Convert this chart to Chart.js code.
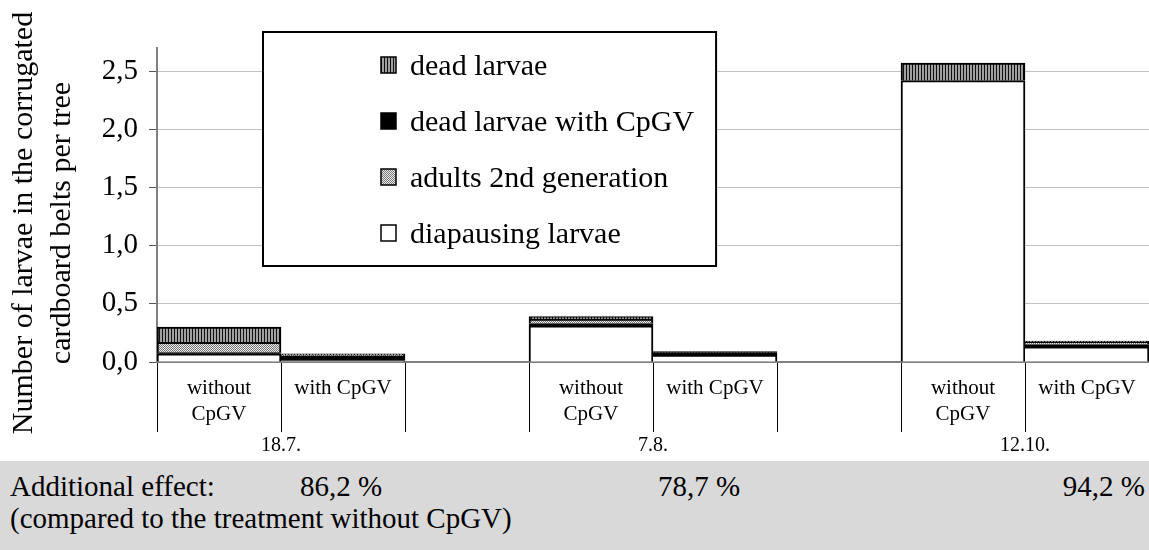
<!DOCTYPE html>
<html>
<head>
<meta charset="utf-8">
<script src="https://cdn.jsdelivr.net/npm/chart.js@4.4.1/dist/chart.umd.min.js"></script>
<style>
    html, body { margin: 0; padding: 0; background: #fff; }
    #wrap { position: relative; width: 1149px; height: 550px; overflow: hidden; font-family: "Liberation Serif", "DejaVu Serif", serif; }
    #chart { position: absolute; left: 0; top: 0; }
    #effect { position: absolute; left: 0; top: 461px; width: 1149px; height: 89px; background: #d9d9d9; color: #000; font-size: 29px; line-height: 33px; }
    #effect span { position: absolute; white-space: nowrap; }
</style>
</head>
<body>
<div id="wrap">
    <canvas id="chart" width="1149" height="460"></canvas>
    <div id="effect"></div>
</div>
<script>
// categories: without / with CpGV per date, empty slot between dates
var categories = [["without", "CpGV"], "with CpGV", "", ["without", "CpGV"], "with CpGV", "", ["without", "CpGV"], "with CpGV"];
var dateLabels = ["18.7.", "7.8.", "12.10."];
var dateStartIndex = [0, 3, 6];

// stacked from the bottom up
var diapausing   = [0.07, 0.01, null, 0.31, 0.06, null, 2.42, 0.13];
var deadWithCpGV = [0.01, 0.04, null, 0.02, 0.02, null, null, 0.02];
var adults2nd    = [0.09, 0.01, null, 0.04, null, null, null, 0.02];
var deadLarvae   = [0.13, 0.01, null, 0.02, 0.01, null, 0.15, 0.01];

var yTicks = [0, 0.5, 1, 1.5, 2, 2.5];
var yTitle = ["Number of larvae in the corrugated", "cardboard belts per tree"];

var effectLabel = "Additional effect:";
var effectNote = "(compared to the treatment without CpGV)";
var effectValues = ["86,2 %", "78,7 %", "94,2 %"];

var FONT = "'Liberation Serif', 'DejaVu Serif', serif";

function stripePattern() {
    var c = document.createElement("canvas");
    c.width = 3; c.height = 4;
    var g = c.getContext("2d");
    g.fillStyle = "#a0a0a0"; g.fillRect(0, 0, 3, 4);
    g.fillStyle = "#111"; g.fillRect(0, 0, 1, 4);
    return g.createPattern(c, "repeat");
}

function dotPattern() {
    var c = document.createElement("canvas");
    c.width = 2; c.height = 2;
    var g = c.getContext("2d");
    g.fillStyle = "#e8e8e8"; g.fillRect(0, 0, 2, 2);
    g.fillStyle = "#7a7a7a"; g.fillRect(0, 0, 1, 1); g.fillRect(1, 1, 1, 1);
    return g.createPattern(c, "repeat");
}

function fmt(v) {
    return Number(v).toFixed(1).replace(".", ",");
}

// "with" bars sit against the "without" bar, so they share its right edge
function barBorder(ctx) {
    var isWith = categories[ctx.dataIndex] === "with CpGV";
    return { top: 2, right: 2, bottom: 0, left: isWith ? 0 : 2 };
}

// legend box inside the plot (same order as the original legend)
var legendOrder = [3, 1, 2, 0];
var boxLegend = {
    id: "boxLegend",
    afterDraw: function (chart) {
        var ctx = chart.ctx;
        var items = legendOrder.map(function (i) { return chart.data.datasets[i]; });
        ctx.save();
        ctx.font = "30px " + FONT;
        var maxW = 0;
        items.forEach(function (ds) { maxW = Math.max(maxW, ctx.measureText(ds.label).width); });
        var left = 263, top = 32, bottom = 266;
        var right = 410 + maxW + 22;
        ctx.fillStyle = "#fff";
        ctx.fillRect(left, top, right - left, bottom - top);
        ctx.lineWidth = 2;
        ctx.strokeStyle = "#000";
        ctx.strokeRect(left, top, right - left, bottom - top);
        items.forEach(function (ds, i) {
            var cy = 65 + i * 56;
            ctx.fillStyle = ds.backgroundColor;
            ctx.fillRect(381, cy - 8, 15, 16);
            ctx.lineWidth = 1.5;
            ctx.strokeRect(381, cy - 8, 15, 16);
            ctx.fillStyle = "#000";
            ctx.textBaseline = "middle";
            ctx.textAlign = "left";
            ctx.fillText(ds.label, 410, cy + 2);
        });
        ctx.restore();
    }
};

// y title, two lines, reading upwards
var sideTitle = {
    id: "sideTitle",
    afterDraw: function (chart) {
        var ctx = chart.ctx;
        ctx.save();
        ctx.font = "30px " + FONT;
        ctx.fillStyle = "#000";
        ctx.textAlign = "center";
        ctx.textBaseline = "middle";
        ctx.translate(0, 223);
        ctx.rotate(-Math.PI / 2);
        yTitle.forEach(function (line, i) {
            ctx.fillText(line, 0, 24 + i * 38);
        });
        ctx.restore();
    }
};

// date under each pair of bars
var dateRow = {
    id: "dateRow",
    afterDraw: function (chart) {
        var xs = chart.scales.x;
        var ctx = chart.ctx;
        ctx.save();
        ctx.font = "20px " + FONT;
        ctx.fillStyle = "#000";
        ctx.textAlign = "center";
        ctx.textBaseline = "middle";
        dateLabels.forEach(function (d, i) {
            var k = dateStartIndex[i];
            var x = (xs.getPixelForValue(k) + xs.getPixelForValue(k + 1)) / 2;
            ctx.fillText(d, x, 446);
        });
        ctx.restore();
    }
};

var ds = function (label, data, color) {
    return { label: label, data: data, backgroundColor: color, borderColor: "#000", borderWidth: barBorder, borderSkipped: false, stack: "s" };
};

new Chart(document.getElementById("chart"), {
    type: "bar",
    data: {
        labels: categories,
        datasets: [
            ds("diapausing larvae", diapausing, "#fff"),
            ds("dead larvae with CpGV", deadWithCpGV, "#000"),
            ds("adults 2nd generation", adults2nd, dotPattern()),
            ds("dead larvae", deadLarvae, stripePattern())
        ]
    },
    options: {
        responsive: false,
        animation: false,
        devicePixelRatio: 1,
        barPercentage: 1,
        categoryPercentage: 1,
        layout: { padding: { top: 48, right: 0, left: 0, bottom: 0 } },
        plugins: { legend: { display: false }, tooltip: { enabled: false } },
        scales: {
            x: {
                stacked: true,
                offset: true,
                grid: { offset: true, drawOnChartArea: false, drawTicks: true, tickLength: 70, color: "#000", lineWidth: 1 },
                border: { color: "#808080", width: 2 },
                ticks: { autoSkip: false, maxRotation: 0, padding: -57, color: "#000", font: { family: FONT, size: 21, lineHeight: 1.25 } },
                afterFit: function (s) { s.height = 98; }
            },
            y: {
                stacked: true,
                min: 0,
                max: 2.7,
                afterBuildTicks: function (s) { s.ticks = yTicks.map(function (v) { return { value: v }; }); },
                afterFit: function (s) { s.width = 157; },
                grid: { color: "#c0c0c0", tickColor: "#555", tickLength: 8 },
                border: { color: "#808080", width: 2 },
                ticks: { padding: 11, color: "#000", font: { family: FONT, size: 29 }, callback: function (v) { return fmt(v); } }
            }
        }
    },
    plugins: [boxLegend, sideTitle, dateRow]
});

// additional effect strip under the chart
(function () {
    var box = document.getElementById("effect");
    var add = function (text, css) {
        var s = document.createElement("span");
        s.textContent = text;
        s.style.cssText = css;
        box.appendChild(s);
    };
    add(effectLabel, "left:10px;top:9px;");
    add(effectValues[0], "left:300px;top:9px;");
    add(effectValues[1], "left:658px;top:9px;");
    add(effectValues[2], "right:4px;top:9px;");
    add(effectNote, "left:10px;top:41px;");
})();
</script>
</body>
</html>
